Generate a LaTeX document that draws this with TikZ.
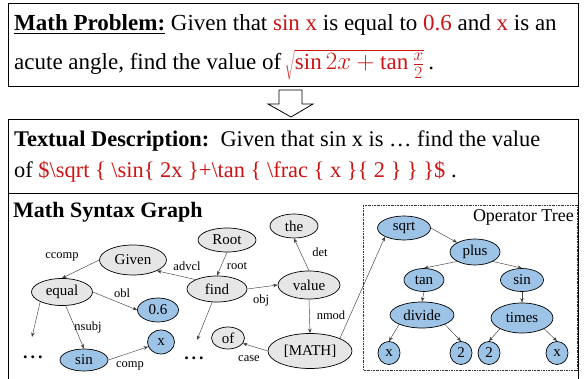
\documentclass[tikz,border=0pt]{standalone}
\usepackage{fontspec}
\setmainfont{LiberationSerif}[Extension=.ttf, UprightFont=*-Regular, BoldFont=*-Bold, ItalicFont=*-Italic, BoldItalicFont=*-BoldItalic]
\usetikzlibrary{shapes.geometric,arrows.meta}
\definecolor{mred}{RGB}{204,20,20}
\definecolor{gfill}{RGB}{230,230,230}
\definecolor{bfill}{RGB}{157,195,230}
\begin{document}
\begin{tikzpicture}[x=1pt,y=-1pt,
 box/.style={draw=black, line width=0.9pt},
 gn/.style={ellipse, draw=black, line width=0.7pt, fill=gfill, inner sep=0pt, font=\fontsize{15}{15}\selectfont},
 bn/.style={gn, fill=bfill},
 ed/.style={draw=black!75, line width=0.45pt, -{Stealth[length=4.5pt,width=3.5pt]}},
 lab/.style={font=\fontsize{12.5}{12.5}\selectfont, inner sep=0pt},
 big/.style={font=\fontsize{23}{23}\selectfont, inner sep=0pt, anchor=base west},
 mid/.style={font=\fontsize{22.4}{22.4}\selectfont, inner sep=0pt, anchor=base west},
 dotsn/.style={font=\fontsize{18}{18}\selectfont\bfseries, inner sep=0pt},
 optbox/.style={draw=black!80, line width=0.6pt, dash pattern=on 2pt off 1pt on 0.6pt off 1pt},
]
\useasboundingbox (0,0) rectangle (584,379);
\fill[white] (0,0) rectangle (584,379);

% frames
\draw[box] (8,3) rectangle (578,86);
\draw[box] (8,381) -- (8,119) -- (578,119) -- (578,381);
\draw[box] (8,193) -- (578,193);
\draw[line width=0.8pt, fill=white] (279,90) -- (302,90) -- (302,104) -- (313,104) -- (291,117) -- (268,104) -- (279,104) -- cycle;

% texts
\node[big] (t1) at (14,31) {\underline{\textbf{Math Problem:}} Given that \textcolor{mred}{sin x} is equal to \textcolor{mred}{0.6} and \textcolor{mred}{x} is an};
\node[big] (t2) at (14,70) {acute angle, find the value of\,{\color{mred}$\sqrt{\sin 2x+\tan\frac{x}{2}}$}\,.};
\node[mid] (d1) at (14,147) {\textbf{Textual Description:}\ \ Given that sin x is … find the value};
\node[mid] (d2) at (14,178) {of \textcolor{mred}{\$\textbackslash sqrt \{ \textbackslash sin\{ 2x \}+\textbackslash tan \{ \textbackslash frac \{ x \}\{ 2 \} \} \}\$} .};
\node[font=\fontsize{22}{22}\selectfont\bfseries, anchor=base west, inner sep=0pt] (title) at (13,218) {Math Syntax Graph};

% operator tree box
\draw[optbox] (363,205) rectangle (577,370);
\node[font=\fontsize{18}{18}\selectfont, anchor=base east, inner sep=0pt] (optitle) at (574,222) {Operator Tree};

% syntax graph nodes
\node[gn, minimum width=67pt, minimum height=30pt] (given) at (133,260) {Given};
\node[gn, minimum width=58pt, minimum height=24pt] (root) at (227,240) {Root};
\node[gn, minimum width=48pt, minimum height=24pt] (the) at (294,226) {the};
\node[gn, minimum width=61pt, minimum height=27pt] (equal) at (62,292) {equal};
\node[gn, minimum width=60pt, minimum height=26pt] (find) at (217,289) {find};
\node[gn, minimum width=62pt, minimum height=28pt] (value) at (309,285) {value};
\node[bn, minimum width=41pt, minimum height=24pt] (n06) at (158,310) {0.6};
\node[bn, minimum width=48pt, minimum height=22pt] (sinl) at (84,360) {sin};
\node[bn, minimum width=27pt, minimum height=24pt] (xl) at (161,342) {x};
\node[gn, minimum width=33pt, minimum height=22pt] (of) at (228,338) {of};
\node[gn, minimum width=84pt, minimum height=35pt] (math) at (310,351) {[MATH]};
\node[dotsn] (dots1) at (33,357) {.\,.\,.};
\node[dotsn] (dots2) at (194,358) {.\,.\,.};
\coordinate (tip1) at (32,337);
\coordinate (tip2) at (197,340);

% operator tree nodes
\node[bn, minimum width=53pt, minimum height=24pt] (sqrt) at (404,228) {sqrt};
\node[bn, minimum width=50pt, minimum height=26pt] (plus) at (475,252) {plus};
\node[bn, minimum width=40pt, minimum height=23pt] (tan) at (424,280) {tan};
\node[bn, minimum width=43pt, minimum height=23pt] (sinr) at (522,280) {sin};
\node[bn, minimum width=64pt, minimum height=26pt] (divide) at (422,315) {divide};
\node[bn, minimum width=62pt, minimum height=30pt] (times) at (522,318) {times};
\node[bn, minimum width=22pt, minimum height=23pt] (x1) at (389,353) {x};
\node[bn, minimum width=22pt, minimum height=23pt] (two1) at (461,353) {2};
\node[bn, minimum width=22pt, minimum height=23pt] (two2) at (489,353) {2};
\node[bn, minimum width=22pt, minimum height=23pt] (x2) at (557,353) {x};

% syntax graph edges
\draw[ed] (given.west) -- (equal.north);
\draw[ed] (find.north west) -- (given.south east);
\draw[ed] (root.south) -- (find.north);
\draw[ed] (find.east) -- (value.west);
\draw[ed] (value.north) -- (the.south);
\draw[ed] (value.south) -- (math.north);
\draw[ed] (math.west) -- (of.-20);
\draw[ed] (math.north east) -- (sqrt.south west);
\draw[ed] (equal.east) -- (n06.west);
\draw[ed] (equal.-75) -- (sinl.north);
\draw[ed] (equal.south west) -- (tip1);
\draw[ed] (sinl.east) -- (xl.200);
\draw[ed] (find.-110) -- (tip2);

% operator tree edges
\draw[ed] (sqrt.east) -- (plus.north west);
\draw[ed] (plus.south west) -- (tan.north);
\draw[ed] (plus.south east) -- (sinr.north);
\draw[ed] (tan.south) -- (divide.north);
\draw[ed] (sinr.south) -- (times.north);
\draw[ed] (divide.south west) -- (x1.north);
\draw[ed] (divide.south east) -- (two1.north);
\draw[ed] (times.south west) -- (two2.north);
\draw[ed] (times.south east) -- (x2.north);

% edge labels
\node[lab] (lccomp) at (62,257) {ccomp};
\node[lab] (ladvcl) at (187,266) {advcl};
\node[lab] (lroot) at (237,266) {root};
\node[lab] (lobl) at (122,293) {obl};
\node[lab] (lobj) at (261,300) {obj};
\node[lab] (ldet) at (320,252) {det};
\node[lab] (lnsubj) at (88,327) {nsubj};
\node[lab] (lnmod) at (331,315) {nmod};
\node[lab] (lcomp) at (130,366) {comp};
\node[lab] (lcase) at (249,359) {case};
\end{tikzpicture}
\end{document}
